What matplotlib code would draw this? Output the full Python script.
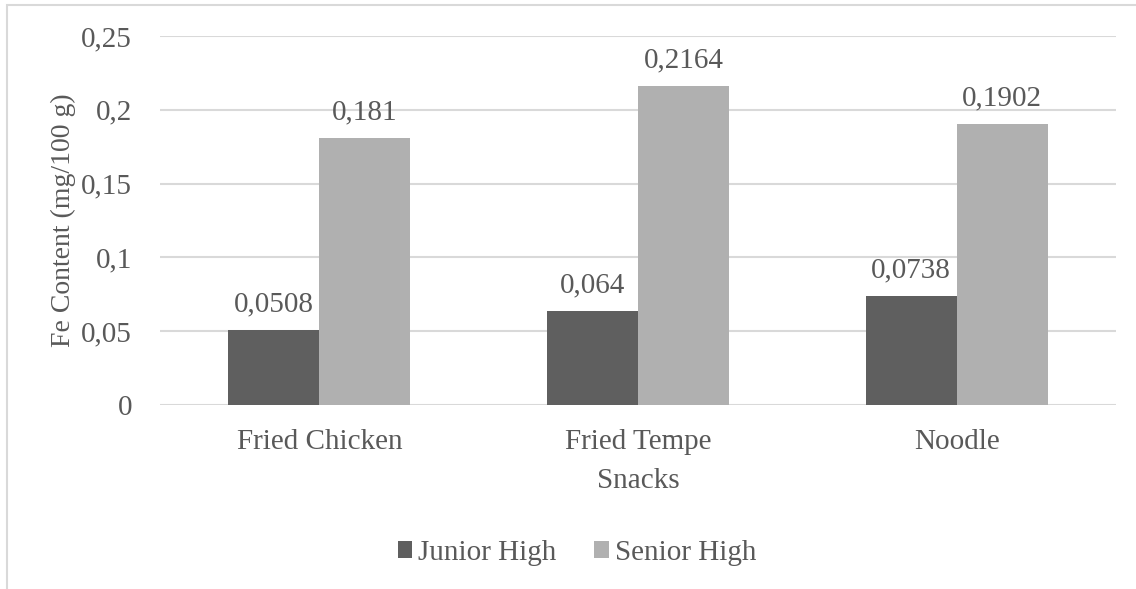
import matplotlib
matplotlib.use("Agg")
import matplotlib.pyplot as plt
import numpy as np
from matplotlib.patches import Rectangle

categories = ["Fried Chicken", "Fried Tempe", "Noodle"]
junior_high = [0.0508, 0.064, 0.0738]
senior_high = [0.181, 0.2164, 0.1902]
junior_labels = ["0,0508", "0,064", "0,0738"]
senior_labels = ["0,181", "0,2164", "0,1902"]
yticks = [0, 0.05, 0.1, 0.15, 0.2, 0.25]
ytick_labels = ["0", "0,05", "0,1", "0,15", "0,2", "0,25"]

DARK = "#5f5f5f"
LIGHT = "#b0b0b0"
TEXT = "#595959"
GRID = "#d9d9d9"
FS = 21

plt.rcParams["font.family"] = ["Liberation Serif", "DejaVu Serif"]
plt.rcParams["font.size"] = FS

W, H = 1136, 589
fig = plt.figure(figsize=(W / 100, H / 100), dpi=100)
ax = fig.add_axes([160 / W, 1 - 405 / H, (1116 - 160) / W, (405 - 36) / H])

# chart frame (cropped on right and bottom in the original)
fig.patches.append(Rectangle((7 / W, -0.1), 2, 1 - 5 / H + 0.1, transform=fig.transFigure,
                             fill=False, edgecolor=GRID, linewidth=1.5))

x = np.arange(len(categories))
w = 0.286
b1 = ax.bar(x - w / 2, junior_high, w, color=DARK, label="Junior High", zorder=3)
b2 = ax.bar(x + w / 2, senior_high, w, color=LIGHT, label="Senior High", zorder=3)
ax.bar_label(b1, labels=junior_labels, padding=9, color=TEXT, fontsize=FS)
ax.bar_label(b2, labels=senior_labels, padding=9, color=TEXT, fontsize=FS)

ax.set_xlim(-0.5, len(categories) - 0.5)
ax.set_ylim(0, 0.25)
ax.set_yticks(yticks)
ax.set_yticklabels(ytick_labels)
ax.set_xticks(x)
ax.set_xticklabels(categories)
ax.yaxis.grid(True, color=GRID, linewidth=1.5, zorder=0)
ax.set_axisbelow(True)
for s in ax.spines.values():
    s.set_visible(False)
ax.tick_params(length=0, colors=TEXT, labelsize=FS)
ax.tick_params(axis="y", pad=20)
ax.tick_params(axis="x", pad=17)
ax.set_ylabel("Fe Content (mg/100 g)", color=TEXT, fontsize=20, labelpad=4)
ax.set_xlabel("Snacks", color=TEXT, fontsize=FS, labelpad=10)

fig.legend(handles=[b1, b2], loc="center", bbox_to_anchor=(577 / W, 1 - 553 / H),
           ncol=2, frameon=False, handlelength=0.5, handleheight=0.5,
           handletextpad=0.2, columnspacing=1.3, labelcolor=TEXT, fontsize=FS)

fig.savefig("out.png", dpi=100)
